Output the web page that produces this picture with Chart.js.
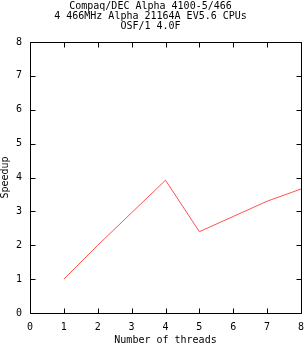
<!DOCTYPE html>
<html>
<head>
<meta charset="utf-8">
<script src="https://cdn.jsdelivr.net/npm/chart.js@4/dist/chart.umd.min.js"></script>
<style>
html,body{margin:0;padding:0;background:#fff;}
#wrap{width:305px;height:345px;position:relative;}
</style>
</head>
<body>
<div id="wrap"><canvas id="c" width="305" height="345"></canvas></div>
<script>
const titleLines = ["Compaq/DEC Alpha 4100-5/466", "4 466MHz Alpha 21164A EV5.6 CPUs", "OSF/1 4.0F"];
const threads = [1, 2, 3, 4, 5, 6, 7, 8];
const speedup = [1.0, 2.0, 2.96, 3.92, 2.40, 2.85, 3.30, 3.66];
const xLabel = "Number of threads";
const yLabel = "Speedup";

const FONT = "'DejaVu Sans Mono', monospace";

const framePlugin = {
  id: 'frame',
  afterDraw(chart) {
    const ctx = chart.ctx;
    const xs = chart.scales.x, ys = chart.scales.y;
    const L = Math.round(xs.getPixelForValue(0)) + 0.5;
    const R = Math.round(xs.getPixelForValue(8)) + 0.5;
    const T = Math.round(ys.getPixelForValue(8)) + 0.5;
    const B = Math.round(ys.getPixelForValue(0)) + 0.5;
    const tl = 5;
    ctx.save();
    ctx.strokeStyle = '#000';
    ctx.lineWidth = 1;
    ctx.beginPath();
    ctx.rect(L, T, R - L, B - T);
    for (let v = 0; v <= 8; v++) {
      const px = Math.round(xs.getPixelForValue(v)) + 0.5;
      ctx.moveTo(px, B); ctx.lineTo(px, B - tl);
      ctx.moveTo(px, T); ctx.lineTo(px, T + tl);
      const py = Math.round(ys.getPixelForValue(v)) + 0.5;
      ctx.moveTo(L, py); ctx.lineTo(L + tl, py);
      ctx.moveTo(R, py); ctx.lineTo(R - tl, py);
    }
    ctx.stroke();
    ctx.restore();
  }
};

new Chart(document.getElementById('c'), {
  type: 'scatter',
  data: {
    datasets: [{
      data: threads.map((t, i) => ({x: t, y: speedup[i]})),
      showLine: true,
      borderColor: '#ff5050',
      borderWidth: 1,
      pointRadius: 0,
      tension: 0,
      fill: false
    }]
  },
  options: {
    responsive: false,
    animation: false,
    devicePixelRatio: 1,
    layout: { padding: { left: 0, right: 4, top: 0, bottom: 0 } },
    plugins: {
      legend: { display: false },
      tooltip: { enabled: false },
      title: {
        display: true,
        text: titleLines,
        color: '#000',
        font: { family: FONT, size: 10, weight: 'normal', lineHeight: 1 },
        padding: { top: 1, bottom: 11 }
      }
    },
    scales: {
      x: {
        type: 'linear',
        min: 0, max: 8,
        grid: { display: false, drawTicks: false },
        border: { display: false },
        ticks: { stepSize: 1, color: '#000', font: { family: FONT, size: 10 }, padding: 8, maxRotation: 0 },
        title: { display: true, text: xLabel, color: '#000', font: { family: FONT, size: 10, lineHeight: 1 }, padding: 0 },
        afterFit(s) { s.height = 32; s.paddingLeft = 0; s.paddingRight = 0; }
      },
      y: {
        type: 'linear',
        min: 0, max: 8,
        grid: { display: false, drawTicks: false },
        border: { display: false },
        ticks: { stepSize: 1, color: '#000', font: { family: FONT, size: 10 }, padding: 8 },
        title: { display: true, text: yLabel, color: '#000', font: { family: FONT, size: 10, lineHeight: 1 }, padding: 0 },
        afterFit(s) { s.width = 30; s.paddingTop = 0; s.paddingBottom = 0; }
      }
    }
  },
  plugins: [framePlugin]
});
</script>
</body>
</html>
